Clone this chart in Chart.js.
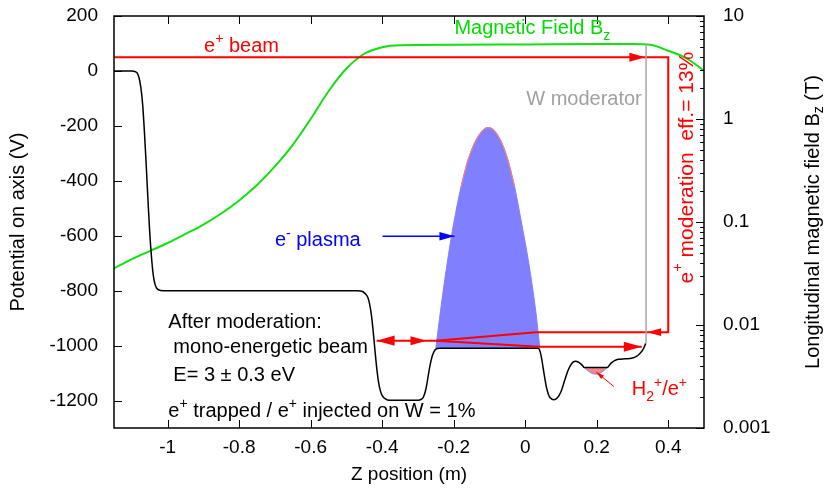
<!DOCTYPE html>
<html>
<head>
<meta charset="utf-8">
<script src="https://cdn.jsdelivr.net/npm/chart.js@4.4.1/dist/chart.umd.min.js"></script>
<style>
  html, body { margin: 0; padding: 0; background: #fff; }
  #wrap { width: 826px; height: 490px; }
</style>
</head>
<body>
<div id="wrap"><canvas id="chart" width="826" height="490"></canvas></div>
<script>
// Tick labels
const zTicks = [-1, -0.8, -0.6, -0.4, -0.2, 0, 0.2, 0.4];
const vTicks = [-1200, -1000, -800, -600, -400, -200, 0, 200];
const bTicks = [0.001, 0.01, 0.1, 1, 10];

// Potential on axis (black curve)
const potentialZ = [-1.15, -1.10, -1.09, -1.085, -1.08, -1.075, -1.07, -1.065, -1.06, -1.055, -1.05, -1.045, -1.04, -1.035, -1.03, -1.02, -1.00,
  -0.50, -0.47, -0.455, -0.45, -0.44, -0.435, -0.43, -0.425, -0.42, -0.415, -0.41, -0.405, -0.40, -0.39, -0.38,
  -0.30, -0.29, -0.285, -0.28, -0.275, -0.27, -0.265, -0.26, -0.255, -0.25, -0.24,
  0.035, 0.04, 0.045, 0.05, 0.055, 0.06, 0.065, 0.07, 0.08, 0.09, 0.10, 0.11, 0.12, 0.13, 0.14, 0.15, 0.16, 0.165,
  0.229, 0.24, 0.25, 0.26, 0.28, 0.30, 0.31, 0.32, 0.33, 0.337];
const potentialV = [0, 0, -3, -8, -25, -60, -120, -220, -340, -470, -590, -680, -745, -778, -792, -799, -800,
  -800, -800, -803, -808, -825, -850, -890, -950, -1020, -1085, -1135, -1165, -1182, -1195, -1199,
  -1199, -1195, -1188, -1170, -1140, -1100, -1065, -1038, -1022, -1013, -1010,
  -1010, -1015, -1040, -1080, -1120, -1155, -1178, -1190, -1197, -1190, -1168, -1128, -1090, -1065, -1057, -1061, -1072, -1080,
  -1080, -1064, -1055, -1050, -1048, -1045, -1040, -1030, -1013, -992];

// Electron plasma (blue filled)
const plasmaZ = [-0.250, -0.240, -0.220, -0.200, -0.180, -0.160, -0.140, -0.120, -0.104, -0.090, -0.070, -0.050, -0.030, -0.010, 0.010, 0.030, 0.041];
const plasmaV = [-1010, -905, -715, -555, -425, -325, -258, -218, -206, -213, -250, -318, -420, -555, -700, -880, -1010];
const plasmaBase = -1010;

// H2+/e+ well (pink filled)
const h2Z = [0.165, 0.175, 0.185, 0.195, 0.205, 0.215, 0.222, 0.229];
const h2V = [-1080, -1092, -1100, -1104, -1103, -1096, -1089, -1080];
const h2Level = -1080;

// Longitudinal magnetic field (green, right log axis)
const fieldZ = [-1.15, -1.10, -1.05, -1.00, -0.95, -0.90, -0.85, -0.80, -0.75, -0.70, -0.65, -0.60, -0.55, -0.50, -0.45, -0.40, -0.35, -0.20, 0.00, 0.20, 0.30, 0.35, 0.40, 0.45, 0.50];
const fieldB = [0.0355, 0.0437, 0.0522, 0.0625, 0.0765, 0.0945, 0.121, 0.162, 0.229, 0.347, 0.562, 1.0, 1.86, 3.09, 4.3, 4.98, 5.2, 5.25, 5.3, 5.35, 5.35, 5.25, 4.6, 3.9, 2.95];

// Positron beam paths (red)
const beamZ = [-1.15, 0.40, 0.40, 0.03, -0.25];
const beamV = [50, 50, -951, -951, -982];
const trapZ = [-0.4155, -0.25];
const trapV = [-982, -982];
const lowerZ = [-0.25, 0.04, 0.326];
const lowerV = [-982, -1004, -1004];

// W moderator (grey)
const modZ = [0.338, 0.338];
const modV = [100, -992];

// Label pointers
const plasmaArrowZ = [-0.399, -0.198];
const plasmaArrowV = [-602, -602];
const h2ArrowZ = [0.248, 0.199];
const h2ArrowV = [-1149, -1097];

// Arrowheads: tip and a point behind it
const headTipZ = [0.336, 0.341, 0.326, -0.4155, -0.276, -0.198, 0.199];
const headTipV = [50, -951, -1004, -982, -982, -602, -1097];
const headFromZ = [0.2, 0.4, 0.2, -0.3, -0.4, -0.3, 0.248];
const headFromV = [50, -951, -1004, -982, -982, -602, -1149];
const headColor = ['#ff0000', '#ff0000', '#ff0000', '#ff0000', '#ff0000', '#0000ff', '#ff0000'];
const headSize = [16, 14, 18, 18, 16, 15, 8];

const FONT = '"Liberation Sans", Arial, Helvetica, sans-serif';
const RED = '#ff0000';

function pts(xs, ys) {
  return xs.map((x, i) => ({ x: x, y: ys[i] }));
}

// draws text pieces, shift 1 = superscript, -1 = subscript
function richText(ctx, parts, x, y, size, align) {
  let w = 0;
  parts.forEach(p => {
    ctx.font = (p[1] ? size * 0.7 : size) + 'px ' + FONT;
    w += ctx.measureText(p[0]).width;
  });
  let cx = align === 'right' ? x - w : align === 'center' ? x - w / 2 : x;
  parts.forEach(p => {
    const s = p[1] ? size * 0.7 : size;
    ctx.font = s + 'px ' + FONT;
    const dy = p[1] === 1 ? -size * 0.42 : p[1] === -1 ? size * 0.3 : 0;
    ctx.fillText(p[0], cx, y + dy);
    cx += ctx.measureText(p[0]).width;
  });
}

const labels = [
  { parts: [['e'], ['+', 1], [' beam']], z: -0.898, v: 70, color: RED },
  { parts: [['Magnetic Field B'], ['z', -1]], z: -0.198, v: 133, color: '#00dd00' },
  { parts: [['W moderator']], z: 0.326, v: -125, color: '#a0a0a0', align: 'right' },
  { parts: [['e'], ['-', 1], [' plasma']], z: -0.700, v: -638, color: '#0000ff' },
  { parts: [['H'], ['2', -1], ['+', 1], ['/e'], ['+', 1]], z: 0.298, v: -1180, color: RED },
  { parts: [['After moderation:']], z: -0.998, v: -936, color: '#000' },
  { parts: [['mono-energetic beam']], z: -0.984, v: -1027, color: '#000' },
  { parts: [['E= 3 \u00b1 0.3 eV']], z: -0.984, v: -1129, color: '#000' },
  { parts: [['e'], ['+', 1], [' trapped / e'], ['+', 1], [' injected on W = 1%']], z: -0.998, v: -1259, color: '#000' }
];

const decorations = {
  id: 'decorations',
  afterDatasetsDraw(chart) {
    const { ctx, chartArea: a, scales } = chart;
    const sx = scales.x, sy = scales.y, sb = scales.y2;
    ctx.save();

    // arrowheads
    headTipZ.forEach((z, i) => {
      const tx = sx.getPixelForValue(z), ty = sy.getPixelForValue(headTipV[i]);
      const fx = sx.getPixelForValue(headFromZ[i]), fy = sy.getPixelForValue(headFromV[i]);
      const ang = Math.atan2(ty - fy, tx - fx);
      const len = headSize[i], half = len * 0.28;
      ctx.save();
      ctx.translate(tx, ty);
      ctx.rotate(ang);
      ctx.beginPath();
      ctx.moveTo(0, 0);
      ctx.lineTo(-len, -half);
      ctx.lineTo(-len, half);
      ctx.closePath();
      ctx.fillStyle = headColor[i];
      ctx.fill();
      ctx.restore();
    });

    // frame and inward ticks
    ctx.strokeStyle = '#000';
    ctx.lineWidth = 1.5;
    ctx.strokeRect(a.left, a.top, a.right - a.left, a.bottom - a.top);
    ctx.lineWidth = 1;
    ctx.beginPath();
    zTicks.forEach(z => {
      const px = Math.round(sx.getPixelForValue(z)) + 0.5;
      ctx.moveTo(px, a.bottom); ctx.lineTo(px, a.bottom - 8);
      ctx.moveTo(px, a.top); ctx.lineTo(px, a.top + 8);
    });
    vTicks.forEach(v => {
      const py = Math.round(sy.getPixelForValue(v)) + 0.5;
      ctx.moveTo(a.left, py); ctx.lineTo(a.left + 8, py);
    });
    bTicks.forEach((b, k) => {
      const py = Math.round(sb.getPixelForValue(b)) + 0.5;
      ctx.moveTo(a.right, py); ctx.lineTo(a.right - 8, py);
      if (k < bTicks.length - 1) {
        for (let m = 2; m <= 9; m++) {
          const pm = Math.round(sb.getPixelForValue(b * m)) + 0.5;
          ctx.moveTo(a.right, pm); ctx.lineTo(a.right - 4, pm);
        }
      }
    });
    ctx.stroke();

    // text labels
    ctx.textBaseline = 'alphabetic';
    labels.forEach(l => {
      ctx.fillStyle = l.color;
      richText(ctx, l.parts.map(p => [p[0], p[1] || 0]), sx.getPixelForValue(l.z), sy.getPixelForValue(l.v), 20, l.align || 'left');
    });

    // rotated moderation label
    ctx.save();
    ctx.translate(sx.getPixelForValue(0.452), sy.getPixelForValue(-352));
    ctx.rotate(-Math.PI / 2);
    ctx.fillStyle = RED;
    ctx.textBaseline = 'middle';
    richText(ctx, [['e', 0], ['+', 1], [' moderation  eff.= 13%', 0]], 0, 0, 21, 'center');
    ctx.restore();

    // right axis title
    ctx.save();
    ctx.translate(813, (a.top + a.bottom) / 2);
    ctx.rotate(-Math.PI / 2);
    ctx.fillStyle = '#000';
    ctx.textBaseline = 'middle';
    richText(ctx, [['Longitudinal magnetic field B', 0], ['z', -1], [' (T)', 0]], 0, 0, 20, 'center');
    ctx.restore();

    ctx.restore();
  }
};

const tickFont = { family: FONT, size: 19 };

function fixVertical(width) {
  return s => { s.width = width; s.paddingTop = 0; s.paddingBottom = 0; };
}

new Chart(document.getElementById('chart'), {
  type: 'line',
  data: {
    datasets: [
      { data: pts(modZ, modV), borderColor: '#a8a8a8', borderWidth: 1.5, yAxisID: 'y' },
      { data: pts(beamZ, beamV), borderColor: RED, borderWidth: 2, yAxisID: 'y' },
      { data: pts(trapZ, trapV), borderColor: RED, borderWidth: 2, yAxisID: 'y' },
      { data: pts(lowerZ, lowerV), borderColor: RED, borderWidth: 2, yAxisID: 'y' },
      { data: pts(plasmaArrowZ, plasmaArrowV), borderColor: '#0000ff', borderWidth: 1.5, yAxisID: 'y' },
      { data: pts(h2ArrowZ, h2ArrowV), borderColor: RED, borderWidth: 1, yAxisID: 'y' },
      { data: pts(potentialZ, potentialV), borderColor: '#000', borderWidth: 1.5, cubicInterpolationMode: 'monotone', yAxisID: 'y' },
      { data: pts(fieldZ, fieldB), borderColor: '#11e011', borderWidth: 2, cubicInterpolationMode: 'monotone', yAxisID: 'y2' },
      { data: pts(h2Z, h2V), borderColor: 'rgba(130,130,255,0.9)', borderWidth: 1, backgroundColor: '#f08888',
        fill: { value: h2Level }, cubicInterpolationMode: 'monotone', yAxisID: 'y' },
      { data: pts(plasmaZ, plasmaV).filter(p => p.y > -430), borderColor: '#f08080', borderWidth: 1.2,
        cubicInterpolationMode: 'monotone', yAxisID: 'y' },
      { data: pts(plasmaZ, plasmaV), borderColor: '#8080ff', borderWidth: 1, backgroundColor: '#8080ff',
        fill: { value: plasmaBase }, cubicInterpolationMode: 'monotone', yAxisID: 'y' }
    ]
  },
  options: {
    responsive: false,
    animation: false,
    devicePixelRatio: 1,
    layout: { padding: { top: 16, left: 0, right: 0, bottom: 0 } },
    plugins: { legend: { display: false }, tooltip: { enabled: false } },
    elements: { point: { radius: 0 }, line: { tension: 0 } },
    scales: {
      x: {
        type: 'linear', min: -1.15, max: 0.5,
        grid: { display: false, drawTicks: false }, border: { display: false },
        afterBuildTicks: s => { s.ticks = zTicks.map(v => ({ value: v })); },
        afterFit: s => { s.height = 62; s.paddingLeft = 0; s.paddingRight = 0; },
        ticks: { color: '#000', font: tickFont, padding: 8, maxRotation: 0, autoSkip: false, callback: v => String(v) },
        title: { display: true, text: 'Z position (m)', color: '#000', font: tickFont, padding: { top: 0, bottom: 4 } }
      },
      y: {
        position: 'left', min: -1300, max: 200,
        grid: { display: false, drawTicks: false }, border: { display: false },
        afterBuildTicks: s => { s.ticks = vTicks.map(v => ({ value: v })); },
        afterFit: fixVertical(114),
        ticks: { color: '#000', font: tickFont, padding: 16, callback: v => String(v) },
        title: { display: true, text: 'Potential on axis (V)', color: '#000', font: { family: FONT, size: 20 }, padding: { top: 6, bottom: 0 } }
      },
      y2: {
        type: 'logarithmic', position: 'right', min: 0.001, max: 10,
        grid: { display: false, drawTicks: false }, border: { display: false },
        afterBuildTicks: s => { s.ticks = bTicks.map(v => ({ value: v })); },
        afterFit: fixVertical(122),
        ticks: { color: '#000', font: tickFont, padding: 19, callback: v => String(v) }
      }
    }
  },
  plugins: [decorations]
});
</script>
</body>
</html>
